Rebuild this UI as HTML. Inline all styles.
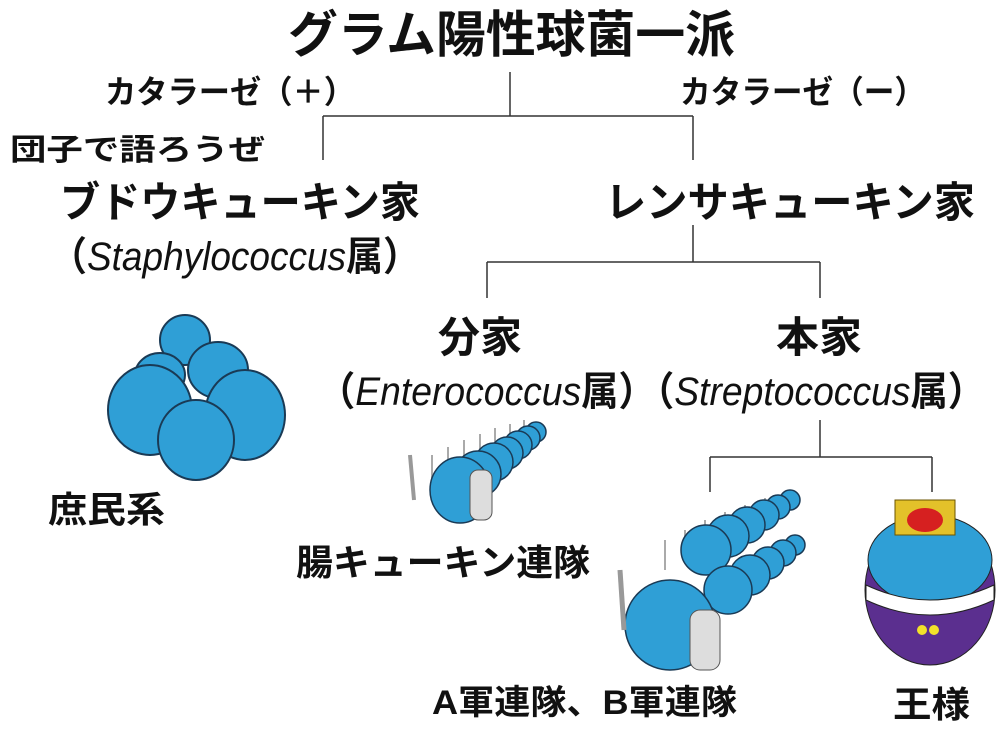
<!DOCTYPE html>
<html><head><meta charset="utf-8"><style>
html,body{margin:0;padding:0;background:#fff;width:1000px;height:734px;overflow:hidden}
svg text{font-family:"Liberation Sans","Noto Sans CJK JP",sans-serif;fill:#111;font-weight:bold}
</style></head><body>
<svg width="1000" height="734" viewBox="0 0 1000 734" xmlns="http://www.w3.org/2000/svg">
<g stroke="#333" stroke-width="1.5" fill="none">
<path d="M510 72V116M323 116H693M323 116V160M693 116V160"/>
<path d="M693 225V262M487 262H820M487 262V298M820 262V298"/>
<path d="M820 420V457M710 457H932M710 457V492M932 457V492"/>
</g>
<text x="288" y="52" font-size="50" textLength="447" lengthAdjust="spacingAndGlyphs">グラム陽性球菌一派</text>
<text x="105" y="103" font-size="32" textLength="250" lengthAdjust="spacingAndGlyphs">カタラーゼ（＋）</text>
<text x="680" y="103" font-size="32" textLength="245" lengthAdjust="spacingAndGlyphs">カタラーゼ（ー）</text>
<text x="10" y="160" font-size="30" textLength="255" lengthAdjust="spacingAndGlyphs">団子で語ろうぜ</text>
<text x="60" y="217" font-size="42" textLength="360" lengthAdjust="spacingAndGlyphs">ブドウキューキン家</text>
<text x="605" y="217" font-size="42" textLength="370" lengthAdjust="spacingAndGlyphs">レンサキューキン家</text>
<text x="50" y="270" font-size="40" textLength="370" lengthAdjust="spacingAndGlyphs">（<tspan font-style="italic" font-weight="normal">Staphylococcus</tspan>属）</text>
<text x="438" y="352" font-size="42" textLength="84" lengthAdjust="spacingAndGlyphs">分家</text>
<text x="776" y="352" font-size="42" textLength="86" lengthAdjust="spacingAndGlyphs">本家</text>
<text x="318" y="405" font-size="40" textLength="667" lengthAdjust="spacingAndGlyphs">（<tspan font-style="italic" font-weight="normal">Enterococcus</tspan>属）（<tspan font-style="italic" font-weight="normal">Streptococcus</tspan>属）</text>
<text x="48" y="522" font-size="36" textLength="117" lengthAdjust="spacingAndGlyphs">庶民系</text>
<text x="296" y="575" font-size="36" textLength="294" lengthAdjust="spacingAndGlyphs">腸キューキン連隊</text>
<text x="432" y="714" font-size="34" textLength="305" lengthAdjust="spacingAndGlyphs">A軍連隊、B軍連隊</text>
<text x="893" y="717" font-size="36" textLength="77" lengthAdjust="spacingAndGlyphs">王様</text>
<!-- bird cluster -->
<g fill="#2f9fd6" stroke="#1a3a55" stroke-width="2">
<ellipse cx="185" cy="340" rx="25" ry="25"/>
<ellipse cx="160" cy="375" rx="25" ry="22"/>
<ellipse cx="218" cy="370" rx="30" ry="28"/>
<ellipse cx="150" cy="410" rx="42" ry="45"/>
<ellipse cx="245" cy="415" rx="40" ry="45"/>
<ellipse cx="196" cy="440" rx="38" ry="40"/>
</g>
<!-- entero soldiers -->
<g stroke="#aaa" stroke-width="2">
<line x1="432" y1="455" x2="432" y2="490"/><line x1="448" y1="447" x2="448" y2="480"/><line x1="464" y1="440" x2="464" y2="472"/><line x1="480" y1="434" x2="480" y2="465"/><line x1="495" y1="428" x2="495" y2="458"/><line x1="510" y1="424" x2="510" y2="452"/><line x1="524" y1="420" x2="524" y2="446"/>
</g>
<g fill="#2f9fd6" stroke="#1a3a55" stroke-width="1.5">
<ellipse cx="536" cy="432" rx="10" ry="10"/>
<ellipse cx="528" cy="438" rx="12" ry="12"/>
<ellipse cx="518" cy="445" rx="14" ry="14"/>
<ellipse cx="507" cy="453" rx="16" ry="16"/>
<ellipse cx="494" cy="462" rx="19" ry="19"/>
<ellipse cx="478" cy="474" rx="23" ry="23"/>
<ellipse cx="460" cy="490" rx="30" ry="33"/>
</g>
<rect x="470" y="470" width="22" height="50" rx="8" fill="#ddd" stroke="#555"/>
<line x1="410" y1="455" x2="414" y2="500" stroke="#999" stroke-width="4"/>
<!-- strep soldiers -->
<g stroke="#aaa" stroke-width="2">
<line x1="665" y1="540" x2="665" y2="570"/><line x1="685" y1="530" x2="685" y2="560"/><line x1="705" y1="520" x2="705" y2="550"/><line x1="725" y1="512" x2="725" y2="540"/><line x1="745" y1="505" x2="745" y2="530"/><line x1="765" y1="498" x2="765" y2="522"/>
</g>
<g fill="#2f9fd6" stroke="#1a3a55" stroke-width="1.5">
<ellipse cx="790" cy="500" rx="10" ry="10"/>
<ellipse cx="778" cy="507" rx="12" ry="12"/>
<ellipse cx="764" cy="515" rx="15" ry="15"/>
<ellipse cx="747" cy="525" rx="18" ry="18"/>
<ellipse cx="728" cy="536" rx="21" ry="21"/>
<ellipse cx="706" cy="550" rx="25" ry="25"/>
<ellipse cx="795" cy="545" rx="10" ry="10"/>
<ellipse cx="783" cy="553" rx="13" ry="13"/>
<ellipse cx="768" cy="563" rx="16" ry="16"/>
<ellipse cx="750" cy="575" rx="20" ry="20"/>
<ellipse cx="728" cy="590" rx="24" ry="24"/>
<ellipse cx="670" cy="625" rx="45" ry="45"/>
</g>
<rect x="690" y="610" width="30" height="60" rx="10" fill="#ddd" stroke="#555"/>
<line x1="620" y1="570" x2="624" y2="630" stroke="#999" stroke-width="5"/>
<!-- king -->
<ellipse cx="930" cy="590" rx="65" ry="75" fill="#5b2f8f" stroke="#222"/>
<ellipse cx="930" cy="560" rx="62" ry="45" fill="#2f9fd6" stroke="#222"/>
<path d="M866 585 Q930 615 994 585 L994 600 Q930 630 866 600Z" fill="#fff" stroke="#222"/>
<rect x="895" y="500" width="60" height="35" fill="#e3c12a" stroke="#6b5500"/>
<ellipse cx="925" cy="520" rx="18" ry="12" fill="#d62020"/>
<circle cx="922" cy="630" r="5" fill="#f2e22a"/><circle cx="934" cy="630" r="5" fill="#f2e22a"/>
</svg>
</body></html>
